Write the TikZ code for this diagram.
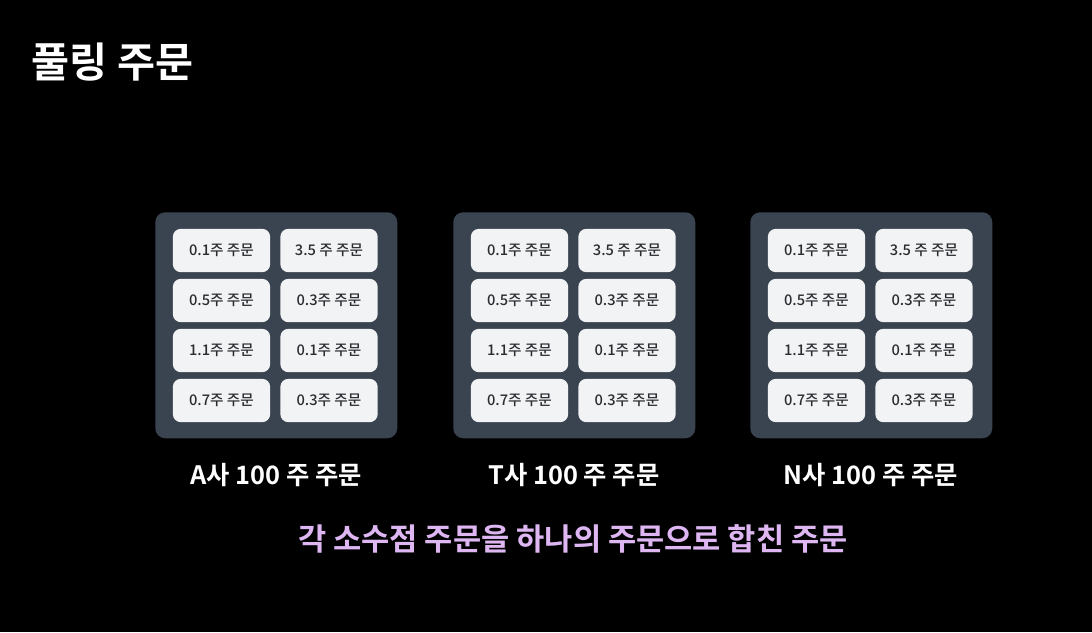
\documentclass[tikz,border=0pt]{standalone}
\usepackage{fontspec}
\setmainfont{Noto Sans CJK KR}[BoldFont={Noto Sans CJK KR Bold}]
\newfontfamily\medfont{Noto Sans CJK KR Medium}
\definecolor{panelc}{HTML}{3A4350}
\definecolor{cellc}{HTML}{F2F3F5}
\definecolor{celltext}{HTML}{2A2C30}
\definecolor{purp}{HTML}{DDB6F2}
\tikzset{
  panel/.style={fill=panelc, rounded corners=7.5pt, minimum width=181.5pt, minimum height=169.5pt, inner sep=0pt},
  cell/.style={fill=cellc, rounded corners=6pt, minimum width=73pt, minimum height=32.5pt, inner sep=0pt, text=celltext, font=\medfont\fontsize{11}{13}\selectfont},
  lbl/.style={text=white, font=\fontsize{19}{22}\selectfont\bfseries},
}
\begin{document}
\begin{tikzpicture}[x=0.75pt,y=-0.75pt]
\useasboundingbox[fill=black] (0,0) rectangle (1092,632);
\node[anchor=west, text=white, font=\fontsize{31}{36}\selectfont\bfseries] (title) at (27,62) {풀링 주문};
\foreach \px/\nm in {155/A, 453/T, 750/N} {
  \node[panel, anchor=north west] (p\nm) at (\px,212) {};
  \node[cell] (\nm11) at (\px+66.5,250.5) {0.1주 주문};
  \node[cell] (\nm12) at (\px+174,250.5) {3.5 주 주문};
  \node[cell] (\nm21) at (\px+66.5,300.5) {0.5주 주문};
  \node[cell] (\nm22) at (\px+174,300.5) {0.3주 주문};
  \node[cell] (\nm31) at (\px+66.5,350.5) {1.1주 주문};
  \node[cell] (\nm32) at (\px+174,350.5) {0.1주 주문};
  \node[cell] (\nm41) at (\px+66.5,400.5) {0.7주 주문};
  \node[cell] (\nm42) at (\px+174,400.5) {0.3주 주문};
  \node[lbl] (l\nm) at (\px+121,475) {\nm{}사 100 주 주문};
}
\node[text=purp, font=\fontsize{23}{27}\selectfont\bfseries] (sub) at (573,539) {각 소수점 주문을 하나의 주문으로 합친 주문};
\end{tikzpicture}
\end{document}
